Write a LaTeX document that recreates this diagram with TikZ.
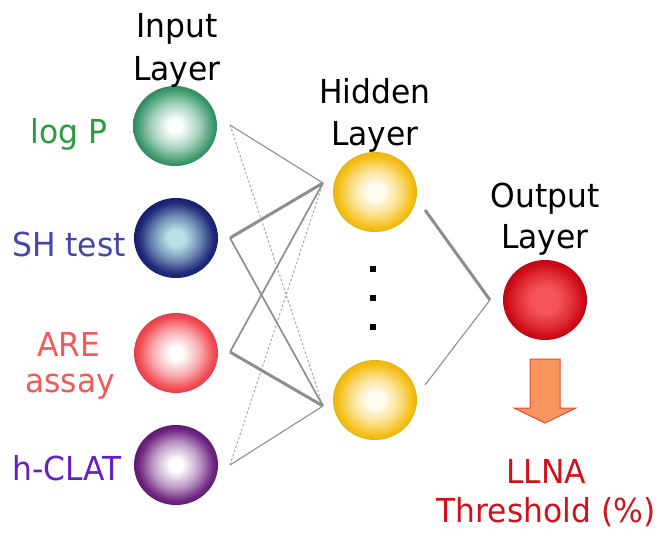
\documentclass[tikz,border=0pt]{standalone}
\usepackage{fontspec}
\setmainfont{DejaVu Sans}[FakeStretch=0.95]
\usetikzlibrary{shapes.geometric}

% layer colours
\definecolor{gOut}{HTML}{3A9A6C}
\definecolor{bOut}{HTML}{1A2276}
\definecolor{bIn}{HTML}{B8E2E6}
\definecolor{pOut}{HTML}{F2464E}
\definecolor{vOut}{HTML}{6A1E7E}
\definecolor{yOut}{HTML}{F6C018}
\definecolor{yIn}{HTML}{FFFCF2}
\definecolor{rOut}{HTML}{CC0A16}
\definecolor{rIn}{HTML}{F4545A}
\definecolor{txGreen}{HTML}{2E9A3E}
\definecolor{txBlue}{HTML}{4646A6}
\definecolor{txPink}{HTML}{F25A5A}
\definecolor{txViolet}{HTML}{6420C2}
\definecolor{txRed}{HTML}{D0121C}
\definecolor{wire}{HTML}{8E8E8E}
\definecolor{wireLight}{HTML}{A8A8A8}
\definecolor{arrFill}{HTML}{F8955E}
\definecolor{arrEdge}{HTML}{E64A30}

% radial shadings for the neurons (the shape's rim sits at 25bp)
\pgfdeclareradialshading{orbGreen}{\pgfpoint{0bp}{0bp}}{color(0bp)=(white); color(4bp)=(white); color(14bp)=(gOut!45); color(22bp)=(gOut!95); color(25bp)=(gOut!88!black); color(50bp)=(gOut!88!black)}
\pgfdeclareradialshading{orbBlue}{\pgfpoint{0bp}{0bp}}{color(0bp)=(bIn); color(5bp)=(bIn); color(14bp)=(bOut!45!bIn); color(22bp)=(bOut!95!bIn); color(25bp)=(bOut!90!black); color(50bp)=(bOut!90!black)}
\pgfdeclareradialshading{orbPink}{\pgfpoint{0bp}{0bp}}{color(0bp)=(white); color(4bp)=(white); color(14bp)=(pOut!45); color(22bp)=(pOut!95); color(25bp)=(pOut!92!black); color(50bp)=(pOut!92!black)}
\pgfdeclareradialshading{orbViolet}{\pgfpoint{0bp}{0bp}}{color(0bp)=(white); color(4bp)=(white); color(14bp)=(vOut!45); color(22bp)=(vOut!95); color(25bp)=(vOut!88!black); color(50bp)=(vOut!88!black)}
\pgfdeclareradialshading{orbYellow}{\pgfpoint{0bp}{0bp}}{color(0bp)=(yIn); color(5bp)=(yIn); color(14bp)=(yOut!45!yIn); color(22bp)=(yOut); color(25bp)=(yOut!94!black); color(50bp)=(yOut!94!black)}
\pgfdeclareradialshading{orbRed}{\pgfpoint{0bp}{0bp}}{color(0bp)=(rIn); color(8bp)=(rIn); color(17bp)=(rOut!55!rIn); color(23bp)=(rOut); color(25bp)=(rOut!92!black); color(50bp)=(rOut!92!black)}

\tikzset{
  neuron/.style={ellipse, minimum width=84pt, minimum height=80pt, inner sep=0pt, shade, shading=#1},
  lbl/.style={font=\fontsize{33}{40}\selectfont, inner sep=0pt, anchor=base},
  wireThin/.style={draw=wire, line width=1.1pt},
  wireMid/.style={draw=wire, line width=1.7pt},
  wireThick/.style={draw=wire, line width=3pt},
  wireDash/.style={draw=wireLight, line width=1pt, dash pattern=on 2.5pt off 2pt},
}

\begin{document}
\begin{tikzpicture}[x=1pt, y=-1pt]
\useasboundingbox (0,0) rectangle (662,533);

% neurons
\node[neuron=orbGreen]  (in1) at (175,126) {};
\node[neuron=orbBlue]   (in2) at (176,238) {};
\node[neuron=orbPink]   (in3) at (176,353) {};
\node[neuron=orbViolet] (in4) at (176,465) {};
\node[neuron=orbYellow] (hid1) at (375,192) {};
\node[neuron=orbYellow] (hid2) at (375,400) {};
\node[neuron=orbRed]    (out) at (545,300) {};

% layer titles
\node[lbl] (tIn1)  at (177,37)  {Input};
\node[lbl] (tIn2)  at (177,80)  {Layer};
\node[lbl] (tHid1) at (375,103) {Hidden};
\node[lbl] (tHid2) at (375,145) {Layer};
\node[lbl] (tOut1) at (545,207) {Output};
\node[lbl] (tOut2) at (545,248) {Layer};

% input descriptors
\node[lbl, text=txGreen]  (lbA)  at (69,143) {log P};
\node[lbl, text=txBlue]   (lbB)  at (69,256) {SH test};
\node[lbl, text=txPink]   (lbC1) at (69,356) {ARE};
\node[lbl, text=txPink]   (lbC2) at (70,392) {assay};
\node[lbl, text=txViolet] (lbD)  at (67,480) {h-CLAT};

% result
\node[lbl, text=txRed] (res1) at (546,483) {LLNA};
\node[lbl, text=txRed] (res2) at (546,522) {Threshold (\%)};

% wire end points
\coordinate (a1) at (230,125);
\coordinate (a2) at (230,238);
\coordinate (a3) at (230,352);
\coordinate (a4) at (230,465);
\coordinate (h1) at (323,183);
\coordinate (h2) at (323,406);
\coordinate (g1) at (425,210);
\coordinate (g2) at (425,385);
\coordinate (o1) at (490,300);

% input -> hidden weights
\draw[wireDash]  (a1) -- (h2);
\draw[wireDash]  (a4) -- (h1);
\draw[wireThin]  (a1) -- (h1);
\draw[wireThin]  (a4) -- (h2);
\draw[wireMid]   (a2) -- (h2);
\draw[wireMid]   (a3) -- (h1);
\draw[wireThick] (a2) -- (h1);
\draw[wireThick] (a3) -- (h2);

% hidden -> output weights
\draw[wireThick] (g1) -- (o1);
\draw[wireThin]  (o1) -- (g2);

% ellipsis between hidden neurons
\foreach \yy in {269,298,327}
  \fill (370,\yy-3) rectangle (376,\yy+3);

% output arrow
\draw[fill=arrFill, draw=arrEdge, line width=1pt, line join=miter]
  (530,359) -- (560,359) -- (560,408) -- (576,408) -- (545,423) -- (514,408) -- (530,408) -- cycle;
\end{tikzpicture}
\end{document}
